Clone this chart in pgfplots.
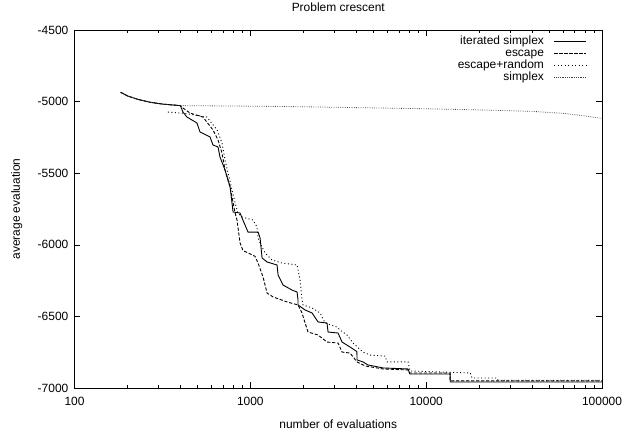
\documentclass[border=0pt]{standalone}
\usepackage{fontspec}
\setmainfont{Liberation Sans}
\usepackage{pgfplots}
\pgfplotsset{compat=1.18}
\begin{document}
\fontsize{12}{14}\selectfont
\begin{tikzpicture}[x=1bp,y=1bp]
\useasboundingbox (0,0) rectangle (636,432);
\begin{axis}[
  at={(74.5bp,44bp)}, anchor=south west,
  scale only axis, width=527.5bp, height=358bp,
  xmode=log, xmin=100, xmax=100000, ymin=-7000, ymax=-4500,
  no markers,
  axis line style={line width=0.8bp},
  xtick={100,1000,10000,100000}, xticklabels={100,1000,10000,100000},
  minor xtick={200,300,400,500,600,700,800,900,2000,3000,4000,5000,6000,7000,8000,9000,20000,30000,40000,50000,60000,70000,80000,90000},
  ytick={-7000,-6500,-6000,-5500,-5000,-4500},
  yticklabels={-7000,-6500,-6000,-5500,-5000,-4500},
  major tick length=6bp, minor tick length=3bp,
  tick style={black, line width=0.6bp},
  xticklabel style={inner sep=0pt, anchor=north, yshift=-9bp},
  yticklabel style={inner sep=0pt, anchor=east, xshift=-6bp},
  title={Problem crescent},
  title style={at={(axis description cs:0.5,1.0466)}, anchor=center, inner sep=0pt},
  xlabel={number of evaluations},
  xlabel style={at={(axis description cs:0.5,-0.0885)}, anchor=north, inner sep=0pt},
  ylabel={average evaluation},
  ylabel style={at={(axis description cs:-0.1096,0.5)}, anchor=center, inner sep=0pt},
  legend style={draw=none, fill=none, at={(1,1)}, anchor=north east, xshift=-15bp, yshift=-5bp,
    inner sep=0pt, row sep=0pt, column sep=10bp,
    nodes={inner sep=0pt, text height=9bp, text depth=3bp}},
  legend cell align=right,
  legend plot pos=right,
  legend image code/.code={\draw[#1] (0bp,0bp) -- (32bp,0bp);},
]
\addplot[black, line width=0.9bp] coordinates {
(183,-4935) (200,-4960) (230,-4985) (270,-5005) (320,-5018) (400,-5028)
(414,-5073) (436,-5108) (497,-5149) (517,-5212) (590,-5247) (613,-5303)
(655,-5317) (672,-5387) (718,-5478) (767,-5596) (798,-5771) (874,-5778)
(897,-5813) (970,-5911) (1106,-5911) (1136,-5952) (1166,-6092) (1245,-6120)
(1419,-6141) (1438,-6211) (1535,-6281) (1726,-6316) (1844,-6330) (1867,-6385)
(1867,-6420) (2047,-6455) (2244,-6476) (2427,-6539) (2730,-6546) (2767,-6609)
(3153,-6616) (3324,-6679) (3691,-6714) (4036,-6746) (4044,-6804) (4374,-6818)
(4670,-6839) (5690,-6860) (7888,-6867) (8069,-6902) (13680,-6902) (13700,-6958)
(100000,-6958)
};
\addlegendentry{iterated simplex}
\addplot[black, line width=0.9bp, dash pattern=on 3.2bp off 1.8bp] coordinates {
(183,-4935) (200,-4960) (230,-4985) (270,-5005) (320,-5018) (400,-5028)
(414,-5045) (454,-5080) (538,-5108) (613,-5198) (655,-5268) (690,-5359)
(718,-5478) (767,-5596) (819,-5778) (840,-5827) (874,-5987) (908,-6040)
(1063,-6080) (1106,-6127) (1181,-6225) (1245,-6337) (1346,-6364) (1617,-6399)
(1867,-6420) (1968,-6476) (2047,-6546) (2129,-6609) (2427,-6630) (2730,-6679)
(3153,-6686) (3324,-6749) (3691,-6756) (4044,-6818) (4500,-6846) (5690,-6867)
(7888,-6874) (8069,-6895) (13680,-6895) (13700,-6950) (100000,-6950)
};
\addlegendentry{escape}
\addplot[black, line width=0.9bp, dash pattern=on 1bp off 2.5bp] coordinates {
(340,-5073) (398,-5080) (414,-5080) (567,-5108) (647,-5198) (690,-5289)
(718,-5408) (747,-5499) (787,-5617) (819,-5708) (851,-5778) (897,-5806)
(1036,-5827) (1091,-5876) (1106,-5953) (1136,-5987) (1212,-6057) (1328,-6106)
(1513,-6127) (1844,-6141) (1918,-6246) (1968,-6385) (1995,-6420) (2244,-6441)
(2492,-6476) (2661,-6546) (3113,-6574) (3237,-6595) (3548,-6630) (3839,-6686)
(4374,-6749) (4797,-6770) (5838,-6777) (5994,-6818) (7888,-6818) (8091,-6881)
(17800,-6895) (18250,-6930) (25300,-6930) (25640,-6946) (100000,-6946)
};
\addlegendentry{escape+random}
\addplot[black!75, line width=0.8bp, dash pattern=on 0.6bp off 1.2bp] coordinates {
(183,-4935) (200,-4960) (230,-4985) (270,-5005) (320,-5018) (400,-5028)
(1000,-5032) (2000,-5036) (5000,-5044) (10000,-5050) (20000,-5058)
(40000,-5068) (60000,-5082) (80000,-5100) (100000,-5118)
};
\addlegendentry{simplex}
\end{axis}
\end{tikzpicture}
\end{document}
